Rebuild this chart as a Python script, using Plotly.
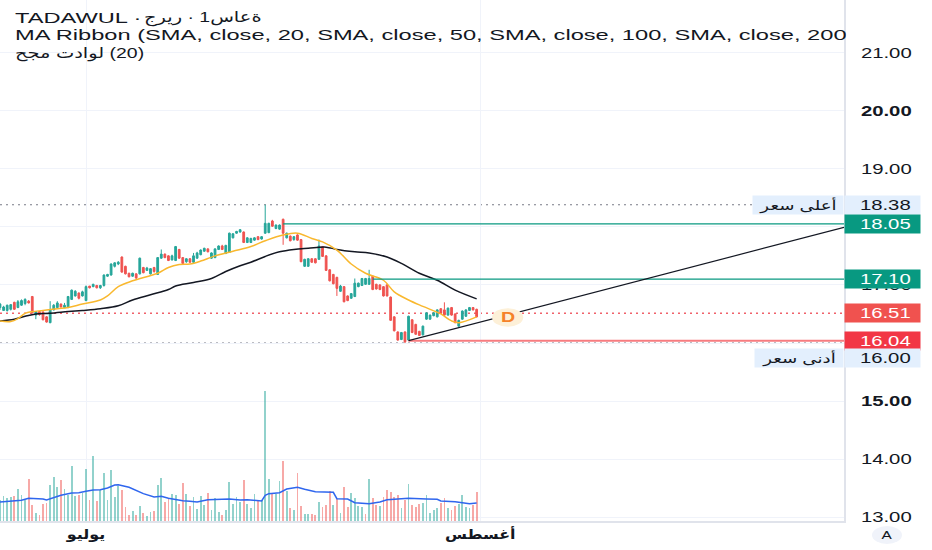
import plotly.graph_objects as go

# hourly candles
opens = [16.61,16.56,16.56,16.58,16.70,16.61,16.65,16.68,16.72,16.80,
         16.48,16.54,16.53,16.45,16.35,16.57,16.61,16.67,16.61,16.61,
         16.75,16.81,16.86,16.81,16.73,16.98,16.97,16.99,16.95,16.99,
         17.15,17.17,17.32,17.36,17.48,17.32,17.20,17.15,17.19,17.19,
         17.30,17.25,17.19,17.30,17.18,17.46,17.53,17.50,17.43,17.42,
         17.61,17.47,17.40,17.45,17.39,17.46,17.52,17.58,17.62,17.46,
         17.47,17.61,17.67,17.54,17.56,17.81,17.89,17.91,17.91,17.73,
         17.73,17.77,17.83,17.79,17.89,17.90,18.10,17.97,17.96,18.13,
         17.81,17.84,17.78,17.86,17.78,17.32,17.32,17.45,17.45,17.44,
         17.66,17.50,17.26,17.18,17.13,16.89,16.97,16.81,16.77,16.80,
         16.97,16.99,17.01,17.01,17.15,17.01,17.00,16.97,17.00,16.79,
         16.45,16.19,16.06,16.19,16.05,16.40,16.32,16.20,16.14,16.41,
         16.41,16.47,16.45,16.59,16.57,16.48,16.61,16.50,16.29,16.41,
         16.46,16.56,16.61,16.58]
highs = [16.69,16.64,16.66,16.67,16.71,16.74,16.75,16.77,16.74,16.81,
         16.55,16.55,16.55,16.46,16.72,16.67,16.72,16.68,16.69,16.81,
         16.92,16.91,16.87,16.90,16.99,16.98,17.02,17.00,17.00,17.18,
         17.19,17.37,17.39,17.41,17.49,17.33,17.21,17.21,17.20,17.47,
         17.31,17.31,17.29,17.31,17.48,17.61,17.54,17.51,17.52,17.67,
         17.62,17.48,17.46,17.46,17.55,17.57,17.61,17.64,17.63,17.56,
         17.63,17.68,17.69,17.69,17.90,17.89,17.93,17.96,17.92,17.82,
         17.81,17.82,17.84,17.84,18.38,18.07,18.12,18.04,18.04,18.14,
         17.90,17.85,17.84,17.87,17.79,17.45,17.46,17.46,17.46,17.78,
         17.67,17.51,17.27,17.19,17.14,17.00,16.98,16.82,16.86,17.11,
         17.04,17.12,17.12,17.26,17.16,17.02,17.01,16.98,17.02,16.80,
         16.46,16.20,16.19,16.20,16.47,16.41,16.33,16.21,16.30,16.53,
         16.49,16.53,16.58,16.60,16.70,16.61,16.62,16.51,16.40,16.56,
         16.58,16.62,16.62,16.59]
lows = [16.57,16.55,16.54,16.56,16.57,16.60,16.64,16.65,16.68,16.51,
        16.41,16.47,16.39,16.35,16.34,16.56,16.59,16.61,16.60,16.60,
        16.74,16.80,16.75,16.80,16.72,16.94,16.96,16.94,16.93,16.97,
        17.14,17.16,17.30,17.34,17.21,17.18,17.13,17.14,17.10,17.18,
        17.20,17.24,17.18,17.21,17.17,17.45,17.46,17.41,17.42,17.41,
        17.45,17.36,17.38,17.38,17.38,17.45,17.51,17.57,17.56,17.45,
        17.46,17.60,17.60,17.53,17.55,17.80,17.88,17.90,17.72,17.72,
        17.72,17.76,17.77,17.78,17.88,17.89,18.00,17.96,17.95,17.69,
        17.80,17.75,17.76,17.76,17.39,17.31,17.31,17.38,17.37,17.43,
        17.48,17.24,17.06,17.01,16.81,16.88,16.70,16.72,16.76,16.79,
        16.96,16.98,17.00,17.00,16.91,16.92,16.91,16.80,16.80,16.38,
        16.20,16.04,16.05,16.00,16.04,16.17,16.14,16.12,16.13,16.40,
        16.40,16.46,16.44,16.50,16.47,16.47,16.47,16.34,16.28,16.40,
        16.45,16.55,16.56,16.44]
closes = [16.67,16.62,16.65,16.66,16.58,16.71,16.73,16.75,16.69,16.52,
          16.54,16.49,16.40,16.36,16.57,16.65,16.69,16.62,16.65,16.80,
          16.91,16.89,16.77,16.88,16.97,16.95,17.01,16.95,16.99,17.17,
          17.18,17.36,17.38,17.39,17.22,17.19,17.14,17.20,17.12,17.46,
          17.21,17.29,17.28,17.23,17.47,17.53,17.47,17.42,17.50,17.66,
          17.46,17.37,17.45,17.39,17.50,17.55,17.60,17.63,17.57,17.55,
          17.62,17.67,17.61,17.68,17.89,17.88,17.92,17.95,17.73,17.81,
          17.80,17.81,17.78,17.83,18.06,18.06,18.01,18.03,18.03,17.89,
          17.89,17.76,17.83,17.77,17.40,17.44,17.45,17.39,17.38,17.67,
          17.49,17.25,17.07,17.02,16.94,16.98,16.71,16.73,16.85,17.03,
          17.03,17.11,17.11,17.11,16.92,16.93,16.92,16.81,16.81,16.39,
          16.21,16.05,16.18,16.02,16.46,16.18,16.15,16.13,16.29,16.52,
          16.48,16.52,16.57,16.51,16.48,16.60,16.48,16.35,16.39,16.55,
          16.57,16.61,16.57,16.45]

volumes = [62,74,69,72,76,97,78,64,127,48,
           24,18,51,54,108,132,102,124,97,79,
           164,76,79,84,156,64,196,60,94,144,
           64,154,72,106,92,41,19,29,19,44,
           24,16,27,31,109,128,56,69,82,79,
           52,114,82,46,72,35,76,47,84,32,
           69,26,19,33,116,52,72,56,122,52,
           39,81,62,62,391,126,82,82,120,181,
           89,40,34,144,44,22,22,22,19,58,
           43,47,91,49,66,24,102,42,84,70,
           46,43,22,127,69,49,46,72,92,86,
           72,78,40,64,112,47,42,51,54,79,
           24,32,40,54,70,40,34,46,52,78,
           42,38,47,88]
volume_sides = ("GGGGRGGGRR" "GRRRGGGRGG" "GGRGGRGRGG" "GGGGRRRGRG" "RGGRGGRRGG"
                "RRGRGGGGRG" "GGRGGGGGRG" "GGRGGGRGGR" "GRGRRGGRRG" "RRRGRGRRGG"
                "GGRGRRGRRR" "RRGRGRRRGG" "GGGRRGRRGG" "GGRR")

vol_ma_idx = [0,4,6,8,10,12,13,15,17,20,22,24,26,28,30,32,33,36,38,40,43,45,47,48,51,53,55,58,61,64,67,69,
              73,74,75,78,80,83,85,88,93,94,97,99,103,106,108,114,119,122,123,127,131,133]
vol_ma = [57,59,62,68,67,66,63,71,77,84,85,89,93,94,99,108,109,101,91,82,72,74,68,66,61,59,57,64,66,66,63,64,
          60,77,82,85,96,101,95,88,86,67,66,55,52,57,64,68,66,65,60,58,52,54]

black_idx = [0,4,7,10,14,19,23,28,33,37,42,47,49,54,59,63,67,70,
             74,78,82,86,91,94,99,103,108,112,117,122,127,133]
black_ma = [16.38,16.41,16.46,16.50,16.51,16.54,16.56,16.59,16.64,16.74,16.83,16.92,16.98,17.04,17.11,17.23,17.33,17.39,
            17.49,17.57,17.61,17.63,17.65,17.61,17.57,17.55,17.48,17.37,17.20,17.08,16.91,16.76]
yellow_idx = [0,3,5,7,9,12,16,19,23,28,30,33,37,44,47,50,53,56,60,65,70,
              74,79,83,87,90,94,98,102,107,110,114,118,123,126,128,133]
yellow_ma = [16.38,16.37,16.42,16.51,16.54,16.56,16.59,16.61,16.67,16.74,16.81,16.97,17.07,17.20,17.30,17.35,17.36,17.41,17.50,17.58,17.66,
             17.76,17.86,17.89,17.80,17.74,17.60,17.36,17.20,17.08,16.88,16.74,16.63,16.50,16.38,16.35,16.45]

price_ticks = [13, 14, 15, 16, 17, 18, 19, 20, 21]
price_labels = ["13.00", "14.00", "<b>15.00</b>", "", "17.00", "18.00", "19.00", "<b>20.00</b>", "21.00"]
month_ticks = [24, 134]
month_labels = ["<b>يوليو</b>", "<b>أغسطس</b>"]

high_price = 18.38
low_price = 16.00
last_price = 16.51
resist_1, resist_1_from = 18.05, 79
resist_2, resist_2_from = 17.10, 104
support, support_from = 16.04, 114
trend_prices = [16.04, 17.99]

GREEN = "#26a69a"
RED = "#ef5350"
TAG_GREEN = "#089981"
LABEL_BLUE = "#e3effd"
X_MAX = 235.5
PLOT_H = 521
FONT = "Liberation Sans, DejaVu Sans"
TEXT_STRETCH = 1.4
HEADER_STRETCH = 1.63
ARABIC_STRETCH = 1.34
MONTH_STRETCH = 1.18


def py(pixel):
    # paper position of a pixel row
    return 1 - pixel / PLOT_H


fig = go.Figure()
fig.add_trace(go.Candlestick(
    x=list(range(len(opens))), open=opens, high=highs, low=lows, close=closes,
    increasing=dict(line=dict(color=GREEN, width=1), fillcolor=GREEN),
    decreasing=dict(line=dict(color=RED, width=1), fillcolor=RED),
    whiskerwidth=0, showlegend=False, hoverinfo="skip"))
fig.add_trace(go.Bar(
    x=list(range(len(volumes))), y=volumes, yaxis="y2", width=0.5,
    marker=dict(color=["rgba(38,166,154,0.5)" if s == "G" else "rgba(239,83,80,0.5)" for s in volume_sides],
                line=dict(width=0)),
    showlegend=False, hoverinfo="skip"))
fig.add_trace(go.Scatter(x=vol_ma_idx, y=vol_ma, yaxis="y2", mode="lines",
                         line=dict(color="#2f66ee", width=1.5), showlegend=False, hoverinfo="skip"))
fig.add_trace(go.Scatter(x=black_idx, y=black_ma, mode="lines",
                         line=dict(color="#131722", width=1.5, shape="spline"), showlegend=False, hoverinfo="skip"))
fig.add_trace(go.Scatter(x=yellow_idx, y=yellow_ma, mode="lines",
                         line=dict(color="#f9b82e", width=1.5, shape="spline"), showlegend=False, hoverinfo="skip"))

# horizontal levels and the rising trend line
for start, level, color, width in [(resist_1_from, resist_1, TAG_GREEN, 1.3),
                                   (resist_2_from, resist_2, TAG_GREEN, 1.3),
                                   (support_from, support, "#f77c80", 2)]:
    fig.add_trace(go.Scatter(x=[start, X_MAX], y=[level, level], mode="lines",
                             line=dict(color=color, width=width), showlegend=False, hoverinfo="skip"))
fig.add_trace(go.Scatter(x=[support_from, X_MAX], y=trend_prices, mode="lines",
                         line=dict(color="#131722", width=1.2), showlegend=False, hoverinfo="skip"))

for level, color, width in [(high_price, "#787b86", 1.2), (low_price, "#787b86", 1.2), (last_price, "#f0616a", 1.5)]:
    fig.add_shape(type="line", xref="paper", x0=0, x1=1, yref="y", y0=level, y1=level, layer="below",
                  line=dict(color=color, width=width, dash="2px,4px"))

# the D badge
fig.add_shape(type="circle", xref="x", yref="y", x0=137.3, x1=146, y0=16.28, y1=16.6,
              fillcolor="#fdf0d8", line=dict(width=0))
fig.add_annotation(x=141.7, y=16.44, xref="x", yref="y", text="<b>D</b>", showarrow=False,
                   font=dict(family=FONT, size=14, color="#f5822a"))

# price tags on the axis, the no-break space nudges the digits right inside the tag
for price, text, bg, fg in [(high_price, "18.38", LABEL_BLUE, "#131722"),
                            (resist_1, "18.05", TAG_GREEN, "#ffffff"),
                            (resist_2, "17.10", TAG_GREEN, "#ffffff"),
                            (last_price, "16.51", "#f0524f", "#ffffff"),
                            (support, "16.04", "#f23645", "#ffffff")]:
    fig.add_annotation(xref="paper", x=1, xanchor="left", yref="y", y=price, yanchor="middle", text="\u00a0" + text,
                       showarrow=False, width=75, height=18, bgcolor=bg, borderpad=0, align="center",
                       font=dict(family=FONT, size=14.5, color=fg))
fig.add_annotation(xref="paper", x=1, xanchor="left", yref="paper", y=py(358), yanchor="middle", text="\u00a016.00",
                   showarrow=False, width=75, height=18, bgcolor=LABEL_BLUE, borderpad=0, align="center",
                   font=dict(family=FONT, size=14.5, color="#131722"))
fig.add_annotation(xref="paper", x=1, xanchor="right", yref="y", y=high_price, yanchor="middle", text="أعلى سعر",
                   showarrow=False, width=90, height=18, bgcolor=LABEL_BLUE, borderpad=0, align="center",
                   font=dict(family=FONT, size=13, color="#131722"))
fig.add_annotation(xref="paper", x=1, xanchor="right", yref="paper", y=py(358), yanchor="middle", text="أدنى سعر",
                   showarrow=False, width=88, height=18, bgcolor=LABEL_BLUE, borderpad=0, align="center",
                   font=dict(family=FONT, size=13, color="#131722"))

# header lines, the Arabic is reversed in the source picture
header = [("TADAWUL \u00b7", 14, 18),
          ("ريرج\u200e \u00b7 \u200eةعاس1", 143, 18),
          ("MA Ribbon (SMA, close, 20, SMA, close, 50, SMA, close, 100, SMA, close, 200", 14, 35),
          ("لوادت مجح\u200e (20)", 14, 53)]
for text, left, row in header:
    fig.add_annotation(xref="paper", x=left / 844, xanchor="left", yref="paper", y=py(row), yanchor="middle",
                       text=text, showarrow=False, borderpad=0, align="left",
                       font=dict(family=FONT, size=14.5, color="#131722"))
# the long header line is cut off where the price scale starts
fig.add_annotation(xref="paper", x=1.002, xanchor="left", yref="paper", y=py(35), yanchor="middle", text=" ",
                   showarrow=False, width=86, height=16, bgcolor="#ffffff", borderpad=0)

# auto scale button
fig.add_shape(type="circle", xref="paper", yref="paper", x0=872 / 844, x1=902 / 844, y0=py(544), y1=py(526),
              fillcolor="#f0f3fa", line=dict(width=0))
fig.add_annotation(xref="paper", x=887 / 844, xanchor="center", yref="paper", y=py(535), yanchor="middle",
                   text="A", showarrow=False, font=dict(family=FONT, size=11, color="#131722"))

fig.update_layout(
    width=932, height=550, margin=dict(l=0, r=88, t=0, b=29),
    paper_bgcolor="#ffffff", plot_bgcolor="#ffffff", showlegend=False, bargap=0,
    xaxis=dict(range=[0, X_MAX], tickmode="array", tickvals=month_ticks, ticktext=month_labels,
               showgrid=True, gridcolor="#f0f3fa", gridwidth=1, zeroline=False, ticks="",
               showline=True, linecolor="#e0e3eb", linewidth=2,
               rangeslider=dict(visible=False), tickfont=dict(family=FONT, size=13.5, color="#131722")),
    yaxis=dict(range=[12.936, 21.904], side="right", tickmode="array", tickvals=price_ticks, ticktext=price_labels,
               showgrid=True, gridcolor="#f0f3fa", gridwidth=1, zeroline=False, ticks="",
               showline=True, linecolor="#e0e3eb", linewidth=2, ticklabelstandoff=12,
               tickfont=dict(family=FONT, size=14.5, color="#131722")),
    yaxis2=dict(range=[0, 1563], overlaying="y", visible=False),
)

# the source picture has wide, stretched lettering; the page margin must go as well
post = """
document.body.style.margin = '0';
document.querySelectorAll('svg.main-svg text').forEach(function (t) {
    var w = t.getComputedTextLength();
    var s = t.textContent;
    var factor = %s;
    if (s.indexOf('MA Ribbon') === 0 || s.indexOf('TADAWUL') === 0) { factor = %s; }
    else if (s.indexOf('\\u200e') >= 0) { factor = %s; }
    else if (t.closest('.xtick')) { factor = %s; }
    if (w > 0) {
        t.setAttribute('textLength', w * factor);
        t.setAttribute('lengthAdjust', 'spacingAndGlyphs');
    }
});
""" % (TEXT_STRETCH, HEADER_STRETCH, ARABIC_STRETCH, MONTH_STRETCH)
fig.write_html("out.html", post_script=post, config=dict(displayModeBar=False))
